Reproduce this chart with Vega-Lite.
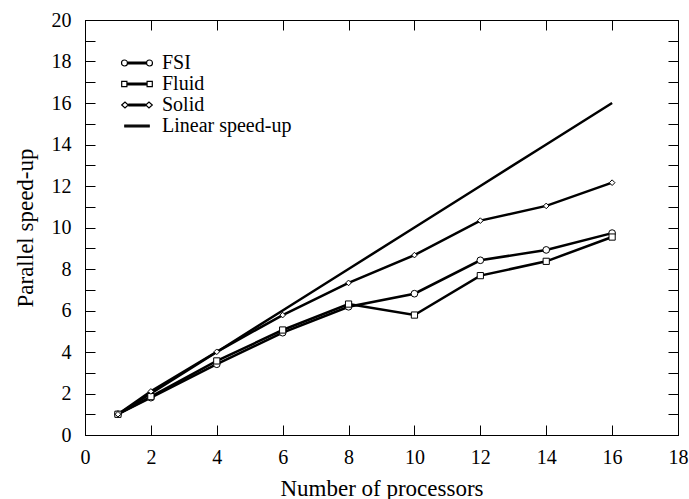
{
  "$schema": "https://vega.github.io/schema/vega-lite/v6.json",
  "width": 593,
  "height": 415,
  "autosize": {"type": "none"},
  "padding": {"left": 85, "top": 20, "right": 11, "bottom": 64},
  "background": "white",
  "config": {
    "view": {"stroke": "black", "strokeWidth": 1},
    "font": "Liberation Serif",
    "axis": {
      "grid": false,
      "labelFlush": false,
      "domainColor": "black",
      "domainWidth": 1,
      "tickColor": "black",
      "tickWidth": 1,
      "tickSize": -10,
      "labelFont": "Liberation Serif",
      "labelFontSize": 20,
      "labelColor": "black",
      "titleFont": "Liberation Serif",
      "titleFontSize": 23,
      "titleFontWeight": "normal",
      "titleColor": "black"
    }
  },
  "data": {
    "values": [
      {"series": "FSI", "n": 1, "speedup": 1.0},
      {"series": "FSI", "n": 2, "speedup": 1.8},
      {"series": "FSI", "n": 4, "speedup": 3.41},
      {"series": "FSI", "n": 6, "speedup": 4.93},
      {"series": "FSI", "n": 8, "speedup": 6.18},
      {"series": "FSI", "n": 10, "speedup": 6.81},
      {"series": "FSI", "n": 12, "speedup": 8.42},
      {"series": "FSI", "n": 14, "speedup": 8.92},
      {"series": "FSI", "n": 16, "speedup": 9.73},
      {"series": "Fluid", "n": 1, "speedup": 1.0},
      {"series": "Fluid", "n": 2, "speedup": 1.85},
      {"series": "Fluid", "n": 4, "speedup": 3.57},
      {"series": "Fluid", "n": 6, "speedup": 5.06},
      {"series": "Fluid", "n": 8, "speedup": 6.31},
      {"series": "Fluid", "n": 10, "speedup": 5.78},
      {"series": "Fluid", "n": 12, "speedup": 7.68},
      {"series": "Fluid", "n": 14, "speedup": 8.37},
      {"series": "Fluid", "n": 16, "speedup": 9.54},
      {"series": "Solid", "n": 1, "speedup": 1.0},
      {"series": "Solid", "n": 2, "speedup": 2.1},
      {"series": "Solid", "n": 4, "speedup": 4.01},
      {"series": "Solid", "n": 6, "speedup": 5.78},
      {"series": "Solid", "n": 8, "speedup": 7.33},
      {"series": "Solid", "n": 10, "speedup": 8.67},
      {"series": "Solid", "n": 12, "speedup": 10.33},
      {"series": "Solid", "n": 14, "speedup": 11.04},
      {"series": "Solid", "n": 16, "speedup": 12.16},
      {"series": "Linear speed-up", "n": 1, "speedup": 1},
      {"series": "Linear speed-up", "n": 2, "speedup": 2},
      {"series": "Linear speed-up", "n": 4, "speedup": 4},
      {"series": "Linear speed-up", "n": 6, "speedup": 6},
      {"series": "Linear speed-up", "n": 8, "speedup": 8},
      {"series": "Linear speed-up", "n": 10, "speedup": 10},
      {"series": "Linear speed-up", "n": 12, "speedup": 12},
      {"series": "Linear speed-up", "n": 14, "speedup": 14},
      {"series": "Linear speed-up", "n": 16, "speedup": 16}
    ]
  },
  "resolve": {"axis": {"x": "independent", "y": "independent"}},
  "layer": [
    {
      "mark": {"type": "line", "strokeWidth": 2.5},
      "encoding": {
        "x": {
          "field": "n", "type": "quantitative",
          "scale": {"domain": [0, 18], "nice": false},
          "axis": {"orient": "bottom", "values": [0, 2, 4, 6, 8, 10, 12, 14, 16, 18], "title": "Number of processors", "labelPadding": 22, "titlePadding": 10}
        },
        "y": {
          "field": "speedup", "type": "quantitative",
          "scale": {"domain": [0, 20], "nice": false},
          "axis": {"orient": "left", "values": [0, 1, 2, 3, 4, 5, 6, 7, 8, 9, 10, 11, 12, 13, 14, 15, 16, 17, 18, 19, 20], "labelExpr": "datum.value % 2 == 0 ? datum.label : ''", "title": "Parallel speed-up", "labelPadding": 24, "titlePadding": 14}
        },
        "stroke": {
          "field": "series", "type": "nominal",
          "scale": {"domain": ["FSI", "Fluid", "Solid", "Linear speed-up"], "range": ["black", "black", "black", "black"]},
          "legend": {
            "title": null,
            "orient": "none",
            "legendX": 41,
            "legendY": 32,
            "padding": 0,
            "symbolSize": 400,
            "symbolStrokeWidth": 1.2,
            "symbolFillColor": "white",
            "labelFont": "Liberation Serif",
            "labelFontSize": 20,
            "labelColor": "black",
            "labelOffset": 14,
            "rowPadding": 0,
            "encode": {
              "symbols": {
                "update": {
                  "shape": {"signal": "datum.value === 'FSI' ? 'M-0.95,-0.08L0.95,-0.08M-0.95,0L0.95,0M-0.95,0.08L0.95,0.08M-0.95,0A0.3,0.3 0 1,0 -1.55,0A0.3,0.3 0 1,0 -0.95,0ZM1.55,0A0.3,0.3 0 1,0 0.95,0A0.3,0.3 0 1,0 1.55,0Z' : datum.value === 'Fluid' ? 'M-1.01,-0.08L1.01,-0.08M-1.01,0L1.01,0M-1.01,0.08L1.01,0.08M-1.53,-0.26L-1.01,-0.26L-1.01,0.26L-1.53,0.26ZM1.01,-0.26L1.53,-0.26L1.53,0.26L1.01,0.26Z' : datum.value === 'Solid' ? 'M-0.87,-0.08L0.87,-0.08M-0.87,0L0.87,0M-0.87,0.08L0.87,0.08M-1.53,0L-1.2,-0.3L-0.87,0L-1.2,0.3ZM0.87,0L1.2,-0.3L1.53,0L1.2,0.3Z' : 'M-1.22,-0.08L1.22,-0.08L1.22,0.08L-1.22,0.08Z'"},
                  "fill": {"signal": "datum.value === 'Linear speed-up' ? 'black' : 'white'"},
                  "stroke": {"value": "black"},
                  "strokeWidth": {"value": 1.2},
                  "opacity": {"value": 1}
                }
              }
            }
          }
        }
      }
    },
    {
      "mark": {"type": "point", "opacity": 0},
      "encoding": {
        "x": {
          "field": "n", "type": "quantitative",
          "axis": {"orient": "top", "values": [0, 2, 4, 6, 8, 10, 12, 14, 16, 18], "labels": false, "title": null, "ticks": true, "domain": true, "tickSize": -10, "tickColor": "black", "tickWidth": 1, "domainColor": "black", "domainWidth": 1}
        },
        "y": {
          "field": "speedup", "type": "quantitative",
          "axis": {"orient": "right", "values": [0, 1, 2, 3, 4, 5, 6, 7, 8, 9, 10, 11, 12, 13, 14, 15, 16, 17, 18, 19, 20], "labels": false, "title": null, "ticks": true, "domain": true, "tickSize": -10, "tickColor": "black", "tickWidth": 1, "domainColor": "black", "domainWidth": 1}
        }
      }
    },
    {
      "transform": [{"filter": "datum.series !== 'Linear speed-up'"}],
      "mark": {"type": "point", "filled": false, "fill": "white", "stroke": "black", "strokeWidth": 1, "opacity": 1},
      "encoding": {
        "x": {"field": "n", "type": "quantitative", "axis": null},
        "y": {"field": "speedup", "type": "quantitative", "axis": null},
        "shape": {
          "field": "series", "type": "nominal",
          "scale": {"domain": ["FSI", "Fluid", "Solid"], "range": ["circle", "square", "diamond"]},
          "legend": null
        },
        "size": {
          "field": "series", "type": "nominal",
          "scale": {"domain": ["FSI", "Fluid", "Solid"], "range": [45, 32, 40]},
          "legend": null
        }
      }
    }
  ]
}
